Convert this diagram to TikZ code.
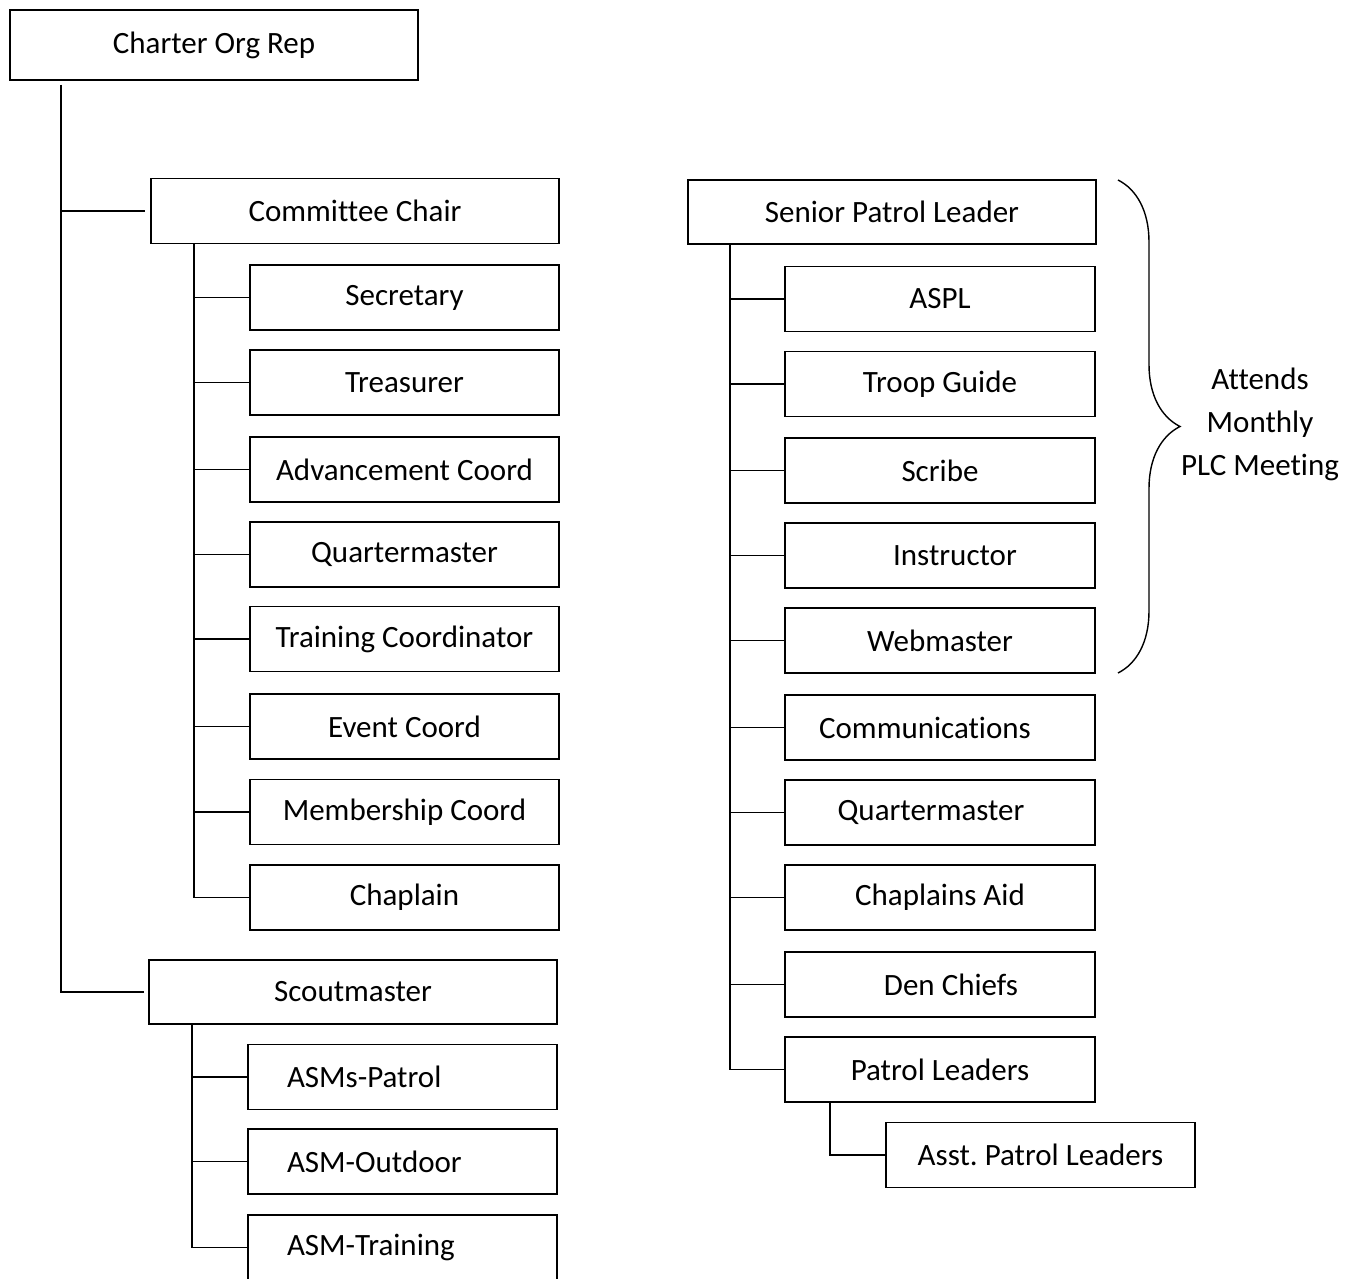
\documentclass[tikz,border=0pt]{standalone}
\usepackage{fontspec}
\setmainfont{Carlito}[Ligatures={NoCommon}]
\frenchspacing
\usetikzlibrary{decorations.pathreplacing}

\tikzset{
  box/.style={draw,line width=1.7pt,inner sep=0pt,minimum height=65pt,
    font=\fontsize{31}{37}\selectfont},
  wide/.style={box,minimum width=408pt},
  narrow/.style={box,minimum width=309pt},
  link/.style={line width=1.7pt},
}

\begin{document}
\begin{tikzpicture}[x=1pt,y=-1pt]
\useasboundingbox (0,0) rectangle (1345,1279);

% adult side
\node[wide,minimum height=70pt] (cor) at (214,45) {Charter Org Rep};
\node[wide] (cc) at (355,211) {Committee Chair};
\node[narrow] (sec) at (404.5,297.5) {Secretary};
\node[narrow] (tre) at (404.5,382.5) {Treasurer};
\node[narrow] (adv) at (404.5,469.5) {Advancement Coord};
\node[narrow] (qma) at (404.5,554.5) {Quartermaster};
\node[narrow] (trn) at (404.5,639) {Training Coordinator};
\node[narrow] (evt) at (404.5,726.5) {Event Coord};
\node[narrow] (mem) at (404.5,812) {Membership Coord};
\node[narrow] (chp) at (404.5,897.5) {Chaplain};
\node[wide,minimum height=64pt] (sm) at (353,992) {Scoutmaster};
\node[narrow,text width=231pt,inner xsep=39pt,align=left] (asmp) at (402.5,1077) {ASMs-Patrol};
\node[narrow,text width=231pt,inner xsep=39pt,align=left] (asmo) at (402.5,1161.5) {ASM-Outdoor};
\node[narrow,text width=231pt,inner xsep=39pt,align=left] (asmt) at (402.5,1247.5) {ASM-Training};

% youth side
\node[wide,minimum height=64pt] (spl) at (892,212) {Senior Patrol Leader};
\node[narrow,minimum width=310pt] (aspl) at (940,299) {ASPL};
\node[narrow,minimum width=310pt] (tg) at (940,384) {Troop Guide};
\node[narrow,minimum width=310pt] (scr) at (940,470.5) {Scribe};
\node[narrow,minimum width=310pt] (ins) at (940,555.5) {\hspace*{30pt}Instructor};
\node[narrow,minimum width=310pt] (web) at (940,640.5) {Webmaster};
\node[narrow,minimum width=310pt] (com) at (940,727.5) {Communications\hspace*{30pt}};
\node[narrow,minimum width=310pt] (qmy) at (940,812.5) {Quartermaster\hspace*{18pt}};
\node[narrow,minimum width=310pt] (ca) at (940,897.5) {Chaplains Aid};
\node[narrow,minimum width=310pt] (dc) at (940,984.5) {\hspace*{22pt}Den Chiefs};
\node[narrow,minimum width=310pt] (pl) at (940,1069.5) {Patrol Leaders};
\node[narrow] (apl) at (1040.5,1155) {Asst. Patrol Leaders};

% connectors
\draw[link,shorten <=4pt,shorten >=5pt] ([xshift=52pt]cor.south west) |- (cc.west);
\draw[link,shorten <=4pt,shorten >=4pt] ([xshift=52pt]cor.south west) |- (sm.west);
\foreach \c in {sec,tre,adv,qma,trn,evt,mem,chp}
  \draw[link] ([xshift=44pt]cc.south west) |- (\c.west);
\foreach \c in {asmp,asmo,asmt}
  \draw[link] ([xshift=44pt]sm.south west) |- (\c.west);
\foreach \c in {aspl,tg,scr,ins,web,com,qmy,ca,dc,pl}
  \draw[link] ([xshift=43pt]spl.south west) |- (\c.west);
\draw[link] ([xshift=46pt]pl.south west) |- (apl.west);

% PLC brace
\coordinate (bt) at (1118,180);
\coordinate (bb) at (1118,673);
\draw[line width=1.4pt,decorate,decoration={brace,amplitude=62pt}] (bt) -- (bb);
\node[align=center,font=\fontsize{31}{43}\selectfont] (plc) at (1260,424)
  {Attends\\Monthly\\PLC Meeting};
\end{tikzpicture}
\end{document}
